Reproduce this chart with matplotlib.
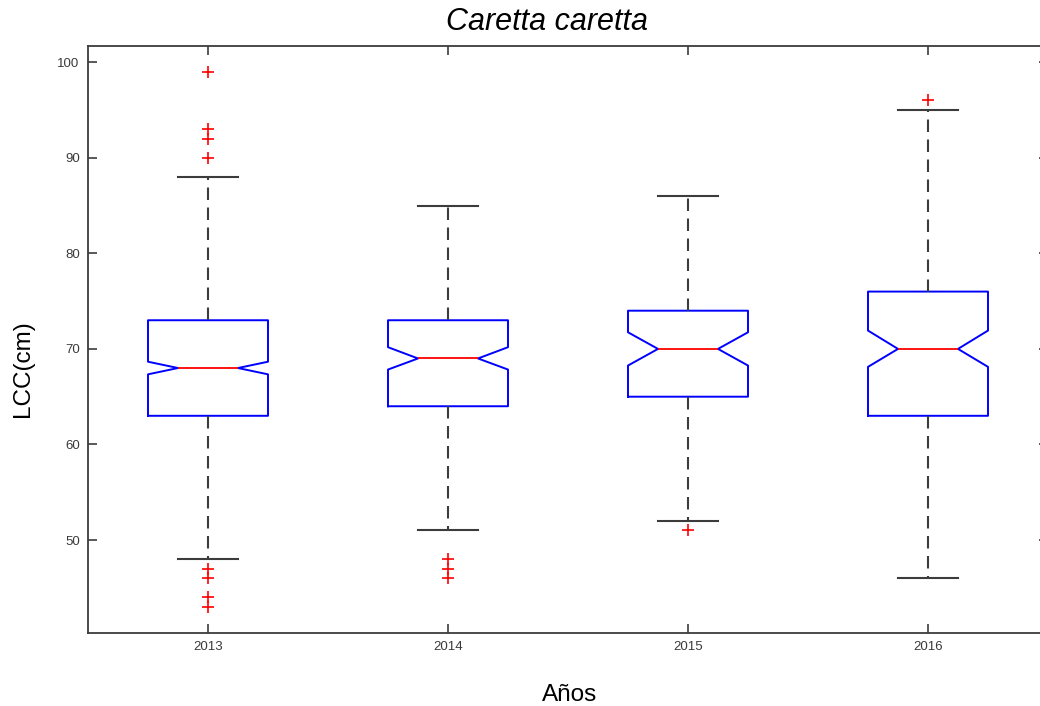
import matplotlib
matplotlib.use('Agg')
import matplotlib.pyplot as plt

# data (LCC in cm per year)
years = ['2013', '2014', '2015', '2016']
q1 = [63, 64, 65, 63]
medians = [68, 69, 70, 70]
q3 = [73, 73, 74, 76]
whisk_lo = [48, 51, 52, 46]
whisk_hi = [88, 85, 86, 95]
notch_lo = [67.34, 67.84, 68.26, 68.12]
notch_hi = [68.66, 70.18, 71.74, 71.92]
outliers = [
    [99, 93, 92, 90, 47, 46, 44, 43],
    [48, 47, 46],
    [51],
    [96],
]

plt.rcParams['font.family'] = ['Liberation Sans', 'DejaVu Sans']

edge_gray = '#3c3c3c'

stats = []
for i, yr in enumerate(years):
    stats.append({
        'label': yr,
        'q1': q1[i], 'med': medians[i], 'q3': q3[i],
        'whislo': whisk_lo[i], 'whishi': whisk_hi[i],
        'cilo': notch_lo[i], 'cihi': notch_hi[i],
        'fliers': outliers[i],
    })

fig = plt.figure(figsize=(10.4, 7.06), dpi=100)
# axes runs past the right edge of the figure, like the cropped original
ax = fig.add_axes([88 / 1040, 1 - 633 / 706, 960 / 1040, 587 / 706])

ax.bxp(stats, positions=range(1, 5), widths=0.5, shownotches=True,
       boxprops=dict(color='#0000ff', linewidth=1.4),
       medianprops=dict(color='#ff0000', linewidth=1.3),
       whiskerprops=dict(color=edge_gray, linewidth=1.5, linestyle=(0, (6, 3.6))),
       capprops=dict(color=edge_gray, linewidth=1.5),
       flierprops=dict(marker='+', markeredgecolor='#ff0000', markersize=8,
                       markeredgewidth=1.2, linestyle='none'))

ax.set_xlim(0.5, 4.5)
ax.set_ylim(40.27, 101.7)
ax.set_yticks([50, 60, 70, 80, 90, 100])
ax.set_xticks(range(1, 5))
ax.set_xticklabels(years)

for s in ax.spines.values():
    s.set_color(edge_gray)
    s.set_linewidth(1.3)
ax.tick_params(direction='in', length=6.5, width=1.2, color=edge_gray,
               top=True, right=True, labelsize=9.5, labelcolor='#3a3a3a', pad=6)

fig.text(547 / 1040, 1 - 30 / 706, 'Caretta caretta', style='italic',
         fontsize=22, ha='center', va='baseline')
fig.text(23 / 1040, 1 - 369 / 706, 'LCC(cm)', rotation=90, fontsize=17.5,
         ha='center', va='center')
fig.text(570 / 1040, 1 - 701 / 706, 'Años', fontsize=17.5, ha='center', va='baseline')

fig.savefig('out.png', dpi=100)
